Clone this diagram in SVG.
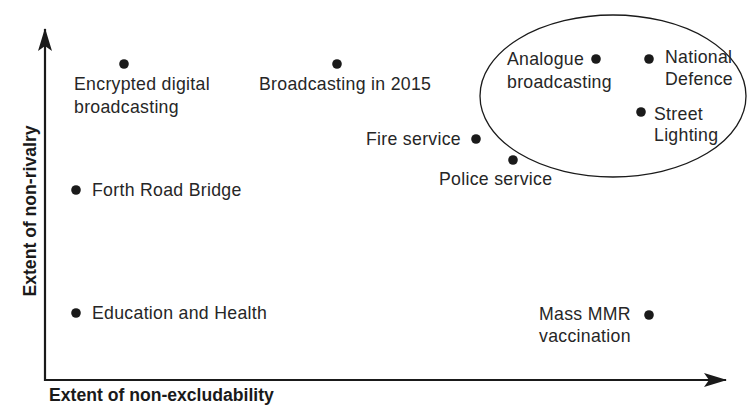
<svg xmlns="http://www.w3.org/2000/svg" width="747" height="406" viewBox="0 0 747 406">
  <style>
    .lbl { font-family: "Liberation Sans", Arial, sans-serif; font-size: 17.7px; letter-spacing: 0.3px; fill: #262626; }
    .axis-title { font-family: "Liberation Sans", Arial, sans-serif; font-size: 17.6px; font-weight: bold; fill: #1a1a1a; }
    .dot { fill: #1a1a1a; }
    .axis { stroke: #1a1a1a; stroke-width: 2.2; fill: none; }
  </style>
  <defs>
    <marker id="head" markerWidth="24" markerHeight="14" refX="22" refY="7" orient="auto" markerUnits="userSpaceOnUse">
      <path d="M0,0 L23,7 L0,14 L5,7 Z" fill="#1a1a1a"/>
    </marker>
  </defs>
  <rect width="747" height="406" fill="#ffffff"/>

  <!-- axes -->
  <g id="axes">
    <path class="axis" d="M45,381 L45,29" marker-end="url(#head)"/>
    <path class="axis" d="M44,380 L726,380" marker-end="url(#head)"/>
    <text class="axis-title" transform="translate(36,211) rotate(-90)" text-anchor="middle">Extent of non-rivalry</text>
    <text class="axis-title" x="49" y="401">Extent of non-excludability</text>
  </g>

  <!-- grouping ellipse for pure public goods -->
  <g id="public-goods-ring">
    <ellipse cx="613" cy="96" rx="133" ry="81" fill="none" stroke="#1a1a1a" stroke-width="1.3"/>
  </g>

  <g id="encrypted-digital">
    <circle class="dot" cx="124" cy="64" r="4.8"/>
    <text class="lbl" x="74" y="90">Encrypted digital</text>
    <text class="lbl" x="74" y="113">broadcasting</text>
  </g>

  <g id="broadcasting-2015">
    <circle class="dot" cx="337" cy="64" r="4.8"/>
    <text class="lbl" x="259" y="90">Broadcasting in 2015</text>
  </g>

  <g id="analogue-broadcasting">
    <circle class="dot" cx="596" cy="59" r="4.8"/>
    <text class="lbl" x="507" y="65">Analogue</text>
    <text class="lbl" x="507" y="88">broadcasting</text>
  </g>

  <g id="national-defence">
    <circle class="dot" cx="649" cy="59" r="4.8"/>
    <text class="lbl" x="665" y="63">National</text>
    <text class="lbl" x="665" y="85">Defence</text>
  </g>

  <g id="street-lighting">
    <circle class="dot" cx="641" cy="112" r="4.8"/>
    <text class="lbl" x="654" y="120">Street</text>
    <text class="lbl" x="654" y="141">Lighting</text>
  </g>

  <g id="fire-service">
    <circle class="dot" cx="476" cy="139" r="4.8"/>
    <text class="lbl" x="461" y="145" text-anchor="end">Fire service</text>
  </g>

  <g id="police-service">
    <circle class="dot" cx="513" cy="160" r="4.8"/>
    <text class="lbl" x="439" y="185">Police service</text>
  </g>

  <g id="forth-road-bridge">
    <circle class="dot" cx="76" cy="190" r="4.8"/>
    <text class="lbl" x="92" y="196">Forth Road Bridge</text>
  </g>

  <g id="education-health">
    <circle class="dot" cx="76" cy="313" r="4.8"/>
    <text class="lbl" x="92" y="319">Education and Health</text>
  </g>

  <g id="mmr-vaccination">
    <circle class="dot" cx="649" cy="315" r="4.8"/>
    <text class="lbl" x="539" y="320">Mass MMR</text>
    <text class="lbl" x="539" y="342">vaccination</text>
  </g>
</svg>
